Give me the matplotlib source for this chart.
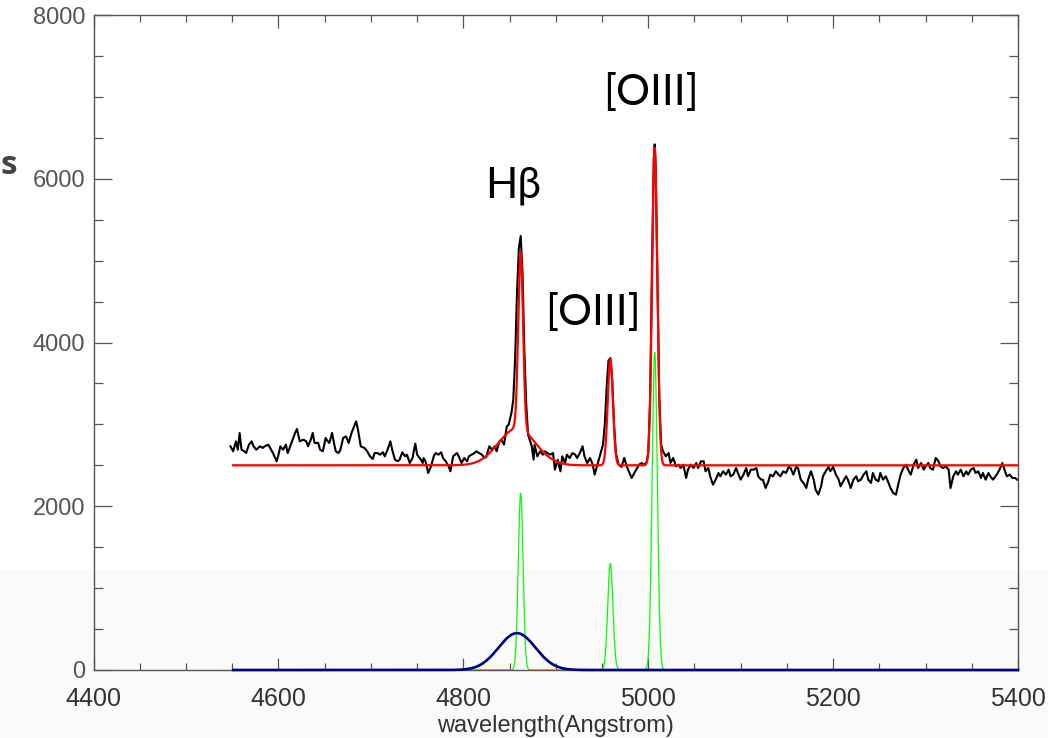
import numpy as np
import matplotlib.pyplot as plt
from matplotlib.patches import Rectangle

# spectre observe (longueur d'onde en Angstrom, flux)
wave = [4548, 4551, 4554, 4556, 4558, 4560, 4563, 4565, 4568, 4571, 4573, 4576, 4580, 4583, 4585,
        4589, 4591, 4594, 4598, 4600, 4602, 4605, 4608, 4610, 4614, 4618, 4620, 4623, 4627, 4630,
        4632, 4635, 4637, 4639, 4643, 4645, 4648, 4651,
        4652, 4655, 4658, 4660, 4662, 4665, 4667, 4670, 4673, 4676, 4679, 4684, 4686, 4689, 4693,
        4696, 4699, 4702, 4704, 4707, 4710, 4713, 4715, 4718, 4721, 4723, 4726, 4729, 4731, 4734,
        4737, 4739, 4742, 4745, 4748, 4750, 4754, 4756,
        4757, 4759, 4762, 4765, 4768, 4770, 4773, 4776, 4778, 4781, 4784, 4786, 4789, 4793, 4795,
        4798, 4801, 4804, 4806, 4809, 4812, 4814, 4817, 4820, 4823, 4825, 4828, 4831, 4834, 4836,
        4839, 4841, 4844, 4847, 4849, 4852, 4854,
        4856, 4858, 4860, 4862, 4864, 4866, 4868,
        4870, 4874, 4876, 4877, 4880, 4883, 4886, 4888, 4891, 4894, 4897, 4899, 4902, 4905, 4907,
        4910, 4912, 4915, 4918, 4921, 4923, 4926, 4929, 4931, 4934, 4937, 4940, 4942, 4945, 4947,
        4948,
        4951, 4953, 4955, 4957, 4959, 4961, 4963, 4965,
        4968, 4971, 4974, 4977, 4979, 4982, 4984, 4987, 4990, 4993, 4995,
        4998, 5000, 5002, 5004, 5006, 5007, 5008, 5010, 5012, 5014,
        5016, 5019, 5022, 5024, 5027, 5030, 5033, 5035, 5038, 5041, 5043, 5046, 5049, 5052, 5054,
        5057, 5060, 5062, 5065, 5067, 5070, 5073, 5076, 5078, 5081, 5084, 5087, 5089, 5092, 5095,
        5097, 5100, 5103, 5106, 5108, 5111, 5114, 5117, 5119, 5122, 5124, 5127, 5130, 5132, 5135,
        5138, 5141, 5143, 5146, 5149, 5152, 5154, 5157, 5160, 5162, 5165, 5168, 5171, 5173, 5176,
        5179, 5181, 5184, 5187, 5189, 5192, 5195, 5197, 5200, 5203, 5206, 5208, 5211, 5214, 5216,
        5219, 5222, 5225, 5227, 5230, 5233, 5236, 5238, 5241, 5243, 5246, 5249, 5251, 5254, 5257,
        5260, 5262, 5265, 5268, 5270, 5273, 5276, 5279, 5281, 5284, 5287, 5290, 5292, 5295, 5298,
        5300, 5303, 5305, 5308, 5311, 5314, 5316, 5319, 5322, 5325, 5327, 5330, 5333, 5335, 5338,
        5341, 5344, 5346, 5349, 5352, 5354, 5357, 5360, 5362, 5365, 5368, 5370, 5373, 5377, 5380,
        5383, 5386, 5388, 5391, 5394, 5397, 5399]

flux = [2732, 2671, 2793, 2691, 2895, 2691, 2671, 2650, 2752, 2793, 2732, 2691, 2732, 2712, 2732,
        2752, 2712, 2650, 2549, 2630, 2732, 2691, 2752, 2650, 2773, 2895, 2944, 2793, 2813, 2793,
        2732, 2813, 2895, 2773, 2773, 2691, 2671, 2834,
        2813, 2773, 2895, 2773, 2671, 2650, 2691, 2834, 2854, 2773, 2895, 3037, 2935, 2732, 2712,
        2671, 2610, 2577, 2650, 2650, 2630, 2659, 2610, 2691, 2793, 2691, 2569, 2549, 2569, 2659,
        2610, 2630, 2528, 2589, 2765, 2630, 2569, 2528,
        2589, 2549, 2406, 2488, 2610, 2650, 2630, 2659, 2589, 2549, 2488, 2427, 2610, 2650, 2610,
        2528, 2589, 2549, 2610, 2630, 2650, 2671, 2650, 2630, 2589, 2610, 2732, 2691, 2732, 2671,
        2793, 2813, 2752, 2976, 2996, 3139, 3300,
        3800, 4600, 5150, 5300, 4850, 3900, 3250,
        2874, 2732, 2569, 2752, 2610, 2671, 2630, 2671, 2650, 2630, 2650, 2447, 2569, 2427, 2610,
        2528, 2630, 2589, 2650, 2630, 2589, 2650, 2732, 2610, 2528, 2589, 2508, 2386, 2508, 2589,
        2630,
        2750, 3000, 3450, 3780, 3810, 3550, 3000, 2650,
        2508, 2480, 2590, 2480, 2427, 2345, 2386, 2447, 2508, 2528, 2508,
        2530, 2650, 3300, 4900, 6250, 6420, 6150, 4700, 3300, 2750,
        2671, 2610, 2650, 2528, 2590, 2488, 2508, 2467, 2508, 2345, 2447, 2508, 2467, 2528, 2467,
        2549, 2549, 2427, 2467, 2366, 2264, 2325, 2406, 2366, 2427, 2386, 2447, 2366, 2386, 2467,
        2406, 2325, 2386, 2467, 2366, 2447, 2447, 2467, 2366, 2325, 2325, 2223, 2305, 2386, 2366,
        2427, 2386, 2366, 2427, 2406, 2480, 2467, 2386, 2480, 2467, 2325, 2284, 2223, 2325, 2427,
        2325, 2203, 2142, 2244, 2366, 2427, 2480, 2427, 2480, 2386, 2325, 2244, 2305, 2366, 2325,
        2223, 2325, 2366, 2305, 2325, 2386, 2427, 2325, 2284, 2406, 2325, 2305, 2406, 2325, 2366,
        2284, 2223, 2162, 2142, 2244, 2386, 2467, 2508, 2447, 2386, 2508, 2569, 2467, 2528, 2447,
        2488, 2528, 2467, 2447, 2590, 2549, 2488, 2467, 2488, 2447, 2223, 2366, 2427, 2386, 2447,
        2366, 2427, 2386, 2447, 2467, 2406, 2427, 2345, 2406, 2325, 2406, 2366, 2325, 2386, 2447,
        2528, 2427, 2366, 2386, 2345, 2345, 2325]

# parametres de l'ajustement : continuum + raies etroites + composante large de Hbeta
continuum = 2500.0
fit_range = (4551, 5400)
narrow_center = [4862, 4959, 5007]
narrow_amp = [2160, 1300, 3880]
narrow_sigma = [2.6, 2.8, 2.8]
broad_center = 4858
broad_amp = 450
broad_sigma = 20

x_ticks = [4400, 4600, 4800, 5000, 5200, 5400]
y_ticks = [0, 2000, 4000, 6000, 8000]

labels = ["H\u03b2", "[OIII]", "[OIII]"]
label_pos = [(4854, 5920), (4940, 4370), (5003, 7050)]


def gauss(x, c, a, s):
    return a * np.exp(-0.5 * ((x - c) / s) ** 2)


lam = np.linspace(fit_range[0], fit_range[1], 3000)
narrow = sum(gauss(lam, c, a, s) for c, a, s in zip(narrow_center, narrow_amp, narrow_sigma))
broad = gauss(lam, broad_center, broad_amp, broad_sigma)
total = continuum + narrow + broad

fig = plt.figure(figsize=(10.48, 7.38), dpi=100)
# bande grise tres claire en bas de la figure
fig.patches.append(Rectangle((0, 0), 1, 168 / 738, transform=fig.transFigure,
                             facecolor="#fafafa", edgecolor="none", zorder=-10))
ax = fig.add_axes([93.6 / 1048, 68 / 738, (1018 - 93.6) / 1048, (670 - 15) / 738])
ax.set_facecolor("none")

ax.plot(wave, flux, color="black", lw=1.5, zorder=3)
ax.plot(lam, total, color="#ff0000", lw=1.6, zorder=4)
ax.plot(lam, narrow, color="#00ff00", lw=0.9, zorder=2, clip_on=False)
ax.plot(lam, broad, color="#000080", lw=1.9, zorder=3, clip_on=False)

for txt, (xl, yl) in zip(labels, label_pos):
    ax.text(xl, yl, txt, fontsize=30.5, family="Lato",
            ha="center", va="center", color="black")

ax.set_xlim(4400, 5400)
ax.set_ylim(0, 8000)
ax.set_xticks(x_ticks)
ax.set_yticks(y_ticks)
ax.set_xticks(np.arange(4400, 5401, 50), minor=True)
ax.set_yticks(np.arange(0, 8001, 500), minor=True)
ax.tick_params(axis="both", which="both", direction="in", top=True, right=True,
               color="#555555", width=0.9)
ax.tick_params(axis="x", which="major", length=9, pad=12, labelsize=18, labelcolor="#333333")
ax.tick_params(axis="x", which="minor", length=5)
ax.tick_params(axis="y", which="major", length=13, pad=6, labelsize=17, labelcolor="#555555")
ax.tick_params(axis="y", which="minor", length=6.5)
for lbl in ax.get_xticklabels() + ax.get_yticklabels():
    lbl.set_family("Liberation Sans")

for sp in ax.spines.values():
    sp.set_color("#555555")
    sp.set_linewidth(1.0)

ax.set_xlabel("wavelength(Angstrom)", fontsize=17, color="#333333",
              family="Liberation Sans", labelpad=3)

# lettre isolee sur le bord gauche
fig.text(1 / 1048, 1 - 166 / 738, "s", fontsize=24, fontweight="bold", color="#444444",
         ha="left", va="center", family="Open Sans")

plt.savefig("out.png", dpi=100)
